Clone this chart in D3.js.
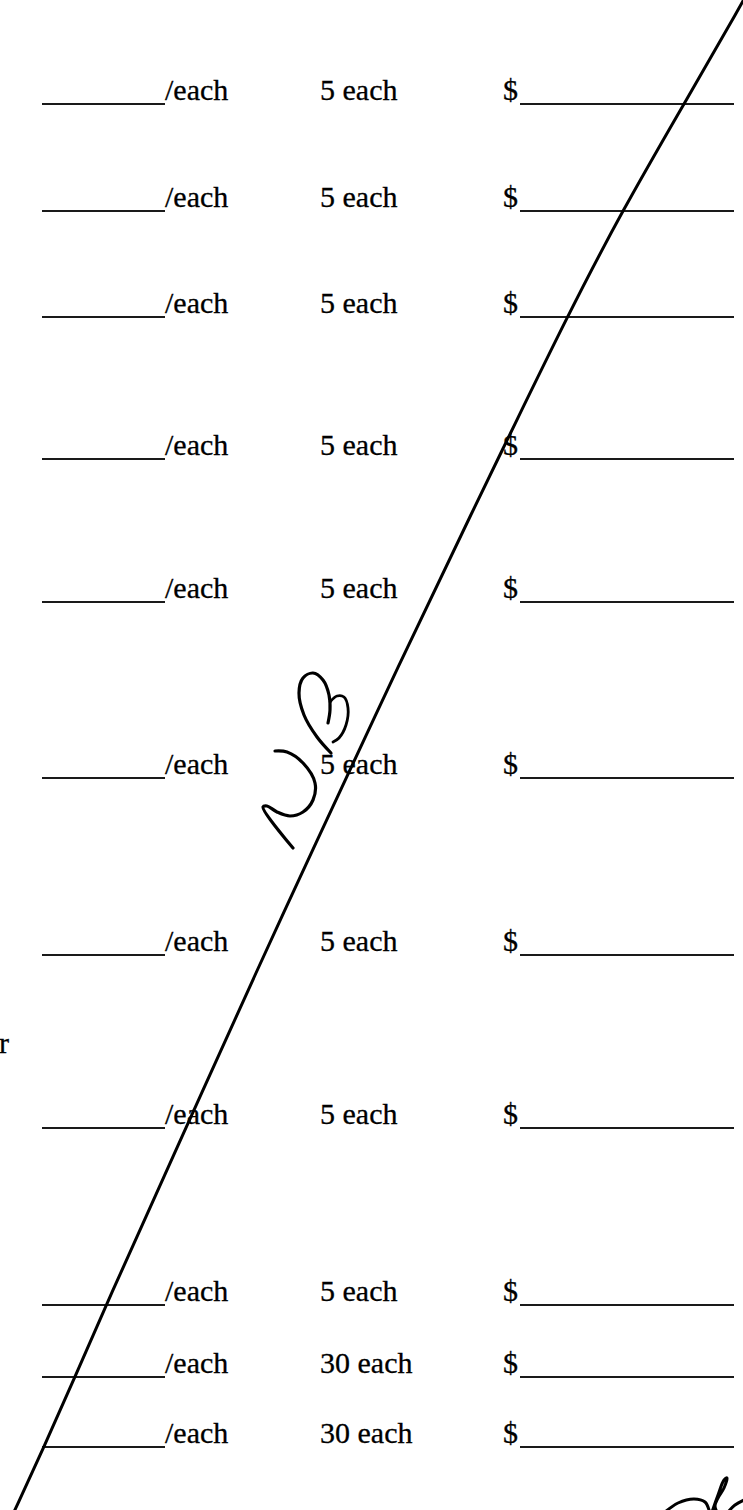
<!DOCTYPE html>
<html>
<head>
<meta charset="utf-8">
<script src="https://cdn.jsdelivr.net/npm/d3@7"></script>
<style>
  body { margin: 0; background: #fff; }
  svg text { font-family: "Liberation Serif", "DejaVu Serif", serif; fill: #000; stroke: #000; stroke-width: 0.3; }
</style>
</head>
<body>
<div id="form"></div>
<script>
// page size
let svgWidth = 743;
let svgHeight = 1510;

// form rows: quantity per row and where each blank line sits on the scan
let qty = [5, 5, 5, 5, 5, 5, 5, 5, 5, 30, 30];
let rowLine = [104, 211, 317, 459, 602, 778, 955, 1128, 1305, 1377, 1447];
let unitLabel = "/each";
let qtyLabel = " each";
let dollar = "$";

// handwritten strike-through stroke
let strikeX = [746, 745, 684, 622, 567, 512, 478, 401, 308, 263, 176, 106, 75, 44, 14, 12];
let strikeY = [-5, -2, 104, 211, 317, 430, 500, 660, 860, 957, 1150, 1305, 1377, 1447, 1512, 1516];

// "NB" initials
let nX = [275, 287, 303, 315, 313, 303, 290, 277, 267, 263, 293];
let nY = [751, 752, 763, 783, 800, 812, 816, 812, 806, 807, 848];
let b1X = [331, 317, 304, 299, 303, 313, 323, 329, 330, 328];
let b1Y = [753, 737, 715, 693, 678, 673, 680, 695, 710, 723];
let b2X = [330, 337, 344, 348, 346, 339, 333];
let b2Y = [702, 696, 697, 708, 725, 738, 742];

// signature scrap at the bottom right
let sigAX = [665, 678, 694, 705, 709];
let sigAY = [1512, 1503, 1499, 1502, 1510];
let sigBX = [712, 718, 724, 727, 724, 718, 715, 717];
let sigBY = [1512, 1495, 1480, 1478, 1488, 1498, 1506, 1512];
let sigCX = [728, 735, 744];
let sigCY = [1512, 1505, 1500];

let svg = d3.select("#form")
  .append("svg")
  .attr("width", svgWidth)
  .attr("height", svgHeight);

svg.append("rect")
  .attr("width", svgWidth)
  .attr("height", svgHeight)
  .attr("fill", "#fff");

// scan coordinates -> page pixels
let xScale = d3.scaleLinear().domain([0, 743]).range([0, svgWidth]);
let yScale = d3.scaleLinear().domain([0, 1510]).range([0, svgHeight]);

let rows = qty.map((q, i) => ({ q: q, y: rowLine[i] }));

let rowGroup = svg.selectAll("g.row")
  .data(rows)
  .enter()
  .append("g")
  .attr("class", "row");

// blank for unit price
rowGroup.append("line")
  .attr("x1", xScale(42))
  .attr("x2", xScale(165))
  .attr("y1", d => yScale(d.y))
  .attr("y2", d => yScale(d.y))
  .attr("stroke", "#1a1a1a")
  .attr("stroke-width", 1.8);

rowGroup.append("text")
  .attr("x", xScale(165))
  .attr("y", d => yScale(d.y) - 4)
  .attr("font-size", 30)
  .text(unitLabel);

rowGroup.append("text")
  .attr("x", xScale(320))
  .attr("y", d => yScale(d.y) - 4)
  .attr("font-size", 30)
  .text(d => d.q + qtyLabel);

rowGroup.append("text")
  .attr("x", xScale(503))
  .attr("y", d => yScale(d.y) - 4)
  .attr("font-size", 30)
  .text(dollar);

// blank for total
rowGroup.append("line")
  .attr("x1", xScale(520))
  .attr("x2", xScale(734))
  .attr("y1", d => yScale(d.y))
  .attr("y2", d => yScale(d.y))
  .attr("stroke", "#1a1a1a")
  .attr("stroke-width", 1.8);

// stray letter at the left margin
svg.append("text")
  .attr("x", xScale(-1))
  .attr("y", yScale(1053))
  .attr("font-size", 30)
  .text("r");

// pen strokes
let pen = d3.line()
  .x(d => xScale(d[0]))
  .y(d => yScale(d[1]));

function stroke(xs, ys, w, curve) {
  svg.append("path")
    .attr("d", pen.curve(curve || d3.curveCatmullRom.alpha(0.5))(d3.zip(xs, ys)))
    .attr("fill", "none")
    .attr("stroke", "#000")
    .attr("stroke-width", w)
    .attr("stroke-linecap", "round")
    .attr("stroke-linejoin", "round");
}

stroke(strikeX, strikeY, 3, d3.curveBasis);
stroke(nX, nY, 3.2);
stroke(b1X, b1Y, 3.2);
stroke(b2X, b2Y, 2.8);
stroke(sigAX, sigAY, 3);
stroke(sigBX, sigBY, 3);
stroke(sigCX, sigCY, 3);
</script>
</body>
</html>
